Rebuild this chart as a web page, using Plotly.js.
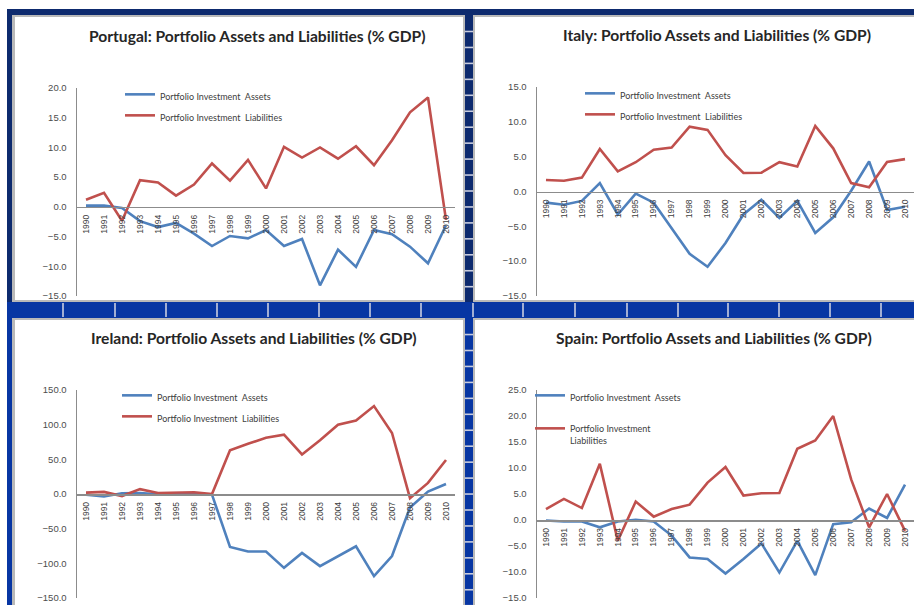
<!DOCTYPE html>
<html><head><meta charset="utf-8">
<script src="https://cdn.plot.ly/plotly-3.0.1.min.js"></script>
<style>html,body{margin:0;padding:0;background:#fff;overflow:hidden}#chart{width:914px;height:605px}</style>
</head><body><div id="chart"></div>
<script>
// ---------------- DATA ----------------
const years = ['1990','1991','1992','1993','1994','1995','1996','1997','1998','1999','2000',
               '2001','2002','2003','2004','2005','2006','2007','2008','2009','2010'];
const assetsName = 'Portfolio Investment  Assets';
const liabName = 'Portfolio Investment  Liabilities';

const portugalAssets = [0.2,0.2,-0.2,-2.4,-3.4,-2.7,-4.5,-6.6,-4.9,-5.3,-3.9,-6.6,-5.4,-13.2,-7.2,-10.1,-3.9,-4.6,-6.7,-9.5,-3.1];
const portugalLiab   = [1.2,2.35,-2.35,4.5,4.1,1.9,3.75,7.3,4.4,7.9,3.1,10.1,8.3,10.0,8.1,10.2,7.0,11.2,15.9,18.4,-2.2];

const italyAssets = [-1.6,-1.9,-1.35,1.2,-3.3,-0.3,-1.6,-5.2,-8.95,-10.8,-7.4,-3.3,-1.2,-3.8,-1.35,-5.95,-3.7,0.1,4.3,-2.65,-2.2];
const italyLiab   = [1.65,1.55,2.0,6.1,2.9,4.2,6.0,6.3,9.3,8.85,5.2,2.65,2.7,4.2,3.6,9.4,6.2,1.2,0.6,4.25,4.65];

const irelandAssets = [-1,-3.5,1,1.5,-0.5,0,0.5,-1,-76.4,-83,-83,-106.5,-85,-104,-90,-75.5,-118.5,-89.5,-19.4,3.4,14.5];
const irelandLiab   = [2,3,-3,7,1.5,2,2.5,0,63,72.5,81,85.5,57,77.4,100,106,126.8,88,-6,16,49];

const spainAssets = [-0.1,-0.3,-0.3,-1.4,-0.3,0.05,-0.3,-3.0,-7.2,-7.5,-10.3,-7.5,-4.5,-10.1,-4.0,-10.6,-0.8,-0.45,2.2,0.4,6.8];
const spainLiab   = [2.1,4.05,2.3,10.8,-4.0,3.55,0.65,2.1,2.95,7.2,10.2,4.7,5.15,5.2,13.7,15.3,20.0,7.8,-1.4,5.0,-2.1];

const titles = ['Portugal: Portfolio Assets and Liabilities (% GDP)',
                'Italy: Portfolio Assets and Liabilities (% GDP)',
                'Ireland: Portfolio Assets and Liabilities (% GDP)',
                'Spain: Portfolio Assets and Liabilities (% GDP)'];

// ---------------- LAYOUT HELPERS ----------------
const W = 914, H = 605;
const fx = v => v / W;
const fy = v => 1 - v / H;

const BLUE = '#4f81bd', RED = '#c0504d';
const panels = [
  {a: portugalAssets, l: portugalLiab, yr: [-15, 20], dt: 5,  xd: [77, 455], yd: [88, 296], tx: 257, ty: 36,  lx: 120, ly: 82,  gap: 2,  liabLabel: liabName},
  {a: italyAssets,    l: italyLiab,    yr: [-15, 15], dt: 5,  xd: [537, 914], yd: [87, 296], tx: 717, ty: 35,  lx: 580, ly: 81,  gap: 2,  liabLabel: liabName},
  {a: irelandAssets,  l: irelandLiab,  yr: [-150, 150], dt: 50, xd: [77, 455], yd: [390, 598], tx: 254, ty: 338, lx: 117, ly: 383, gap: 2,  liabLabel: liabName},
  {a: spainAssets,    l: spainLiab,    yr: [-15, 25], dt: 5,  xd: [537, 914], yd: [390, 598], tx: 714, ty: 338, lx: 530, ly: 383, gap: 14, liabLabel: 'Portfolio Investment<br>Liabilities'}
];

const traces = [];
const layout = {
  width: W, height: H,
  margin: {l: 0, r: 0, t: 0, b: 0},
  paper_bgcolor: '#ffffff', plot_bgcolor: '#ffffff',
  showlegend: true,
  annotations: [], shapes: []
};

panels.forEach((p, i) => {
  const n = i + 1;
  const xk = n === 1 ? 'x' : 'x' + n, yk = n === 1 ? 'y' : 'y' + n;
  const xa = n === 1 ? 'xaxis' : 'xaxis' + n, ya = n === 1 ? 'yaxis' : 'yaxis' + n;
  const lg = n === 1 ? 'legend' : 'legend' + n;
  traces.push({x: years, y: p.a, xaxis: xk, yaxis: yk, type: 'scatter', mode: 'lines',
               name: assetsName, legend: lg, legendgroup: 'a' + n,
               line: {color: BLUE, width: 2.6}, cliponaxis: true});
  traces.push({x: years, y: p.l, xaxis: xk, yaxis: yk, type: 'scatter', mode: 'lines',
               name: p.liabLabel, legend: lg, legendgroup: 'l' + n,
               line: {color: RED, width: 2.6}, cliponaxis: true});
  const yd0 = fy(p.yd[1]), yd1 = fy(p.yd[0]);
  const zeroPos = yd0 + (0 - p.yr[0]) / (p.yr[1] - p.yr[0]) * (yd1 - yd0);
  layout[xa] = {
    domain: [fx(p.xd[0]), fx(p.xd[1])], anchor: 'free', position: zeroPos,
    type: 'category', range: [-0.5, 20.5], showgrid: false, zeroline: false,
    showline: true, linecolor: '#8c8c8c', linewidth: 1.5,
    ticks: '', tickangle: -90, ticklabelstandoff: 3,
    tickfont: {family: 'Liberation Sans, Arial, sans-serif', size: 8.5, color: '#404040'},
    fixedrange: true
  };
  layout[ya] = {
    domain: [yd0, yd1], anchor: xk, range: p.yr, dtick: p.dt, tick0: 0,
    tickformat: '.1f', showgrid: false, zeroline: false,
    showline: true, linecolor: '#8c8c8c', linewidth: 1.5,
    ticks: '', ticklabelstandoff: 7,
    tickfont: {family: 'Liberation Sans, Arial, sans-serif', size: 9.5, color: '#4d4d4d'},
    fixedrange: true
  };
  layout[lg] = {
    x: fx(p.lx), y: fy(p.ly), xanchor: 'left', yanchor: 'top',
    bgcolor: 'rgba(0,0,0,0)', borderwidth: 0,
    font: {family: 'Lato, Liberation Sans, sans-serif', size: 9, color: '#404040'},
    traceorder: 'grouped', tracegroupgap: p.gap, valign: 'top', itemwidth: 30
  };
  layout.annotations.push({
    xref: 'paper', yref: 'paper', x: fx(p.tx), y: fy(p.ty), xanchor: 'center', yanchor: 'middle',
    text: '<b>' + titles[i] + '</b>', showarrow: false,
    font: {family: 'Lato, Liberation Sans, sans-serif', size: 15.6, color: '#262626'}
  });
});

// ---------------- SPREADSHEET FRAME (decoration) ----------------
const NAVY = '#0d2a6e', ROYAL = '#0736a3', GRAYL = '#b9b9b9';
function rect(x0, y0, x1, y1, color, layer) {
  layout.shapes.push({type: 'rect', xref: 'paper', yref: 'paper', x0: fx(x0), x1: fx(x1), y0: fy(y1), y1: fy(y0),
                      fillcolor: color, line: {width: 0}, layer: layer || 'above'});
}
// light gray inner borders
rect(12, 15, 914, 17, GRAYL);
rect(12, 15, 15, 302, GRAYL);
rect(12, 300, 914, 302, GRAYL);
rect(12, 318, 914, 320, GRAYL);
rect(12, 318, 15, 605, GRAYL);
rect(463, 15, 475, 605, GRAYL);
// navy top and left bars
rect(7, 9, 914, 15, NAVY);
rect(7, 9, 12, 302, NAVY);
rect(7, 302, 12, 605, ROYAL);
// middle vertical divider
rect(465, 15, 473, 302, NAVY);
rect(465, 318, 473, 605, ROYAL);
// horizontal band
rect(7, 302, 914, 318, ROYAL);
// cell gaps in horizontal band
[63,115,166,217,268,319,370,421,473,523,575,627,678,728,779,830,881].forEach(x => rect(x - 0.8, 303, x + 0.8, 317, '#c8cde0'));
// cell gaps in vertical divider
for (let k = 0; k < 37; k++) {
  const y = 31.5 + 15.95 * k;
  if (y > 300 && y < 320) continue;
  rect(465, y - 0.8, 473, y + 0.8, '#c8cde0');
}

Plotly.newPlot('chart', traces, layout, {displayModeBar: false, staticPlot: true});
</script></body></html>
